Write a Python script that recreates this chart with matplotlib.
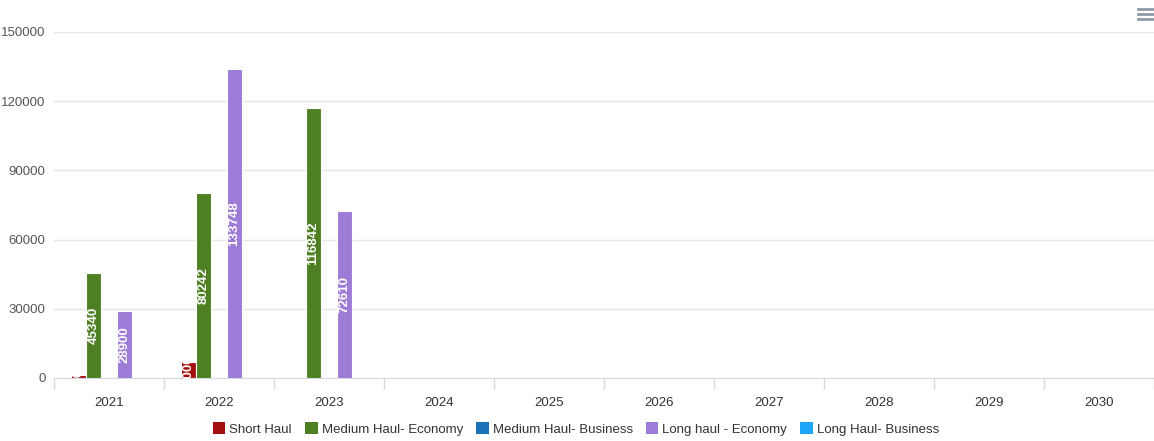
import numpy as np
import matplotlib
matplotlib.use('Agg')
import matplotlib.pyplot as plt
from matplotlib.patches import FancyBboxPatch
from matplotlib.lines import Line2D

plt.rcParams['font.family'] = ['Liberation Sans', 'DejaVu Sans']

# ---------------------------------------------------------
# Data
# ---------------------------------------------------------
years = ['2021', '2022', '2023', '2024', '2025', '2026', '2027', '2028', '2029', '2030']
short_haul = [1500, 7000, 0, 0, 0, 0, 0, 0, 0, 0]
medium_economy = [45340, 80242, 116842, 0, 0, 0, 0, 0, 0, 0]
medium_business = [0, 0, 0, 0, 0, 0, 0, 0, 0, 0]
long_economy = [28900, 133748, 72610, 0, 0, 0, 0, 0, 0, 0]
long_business = [0, 0, 0, 0, 0, 0, 0, 0, 0, 0]

series_names = ['Short Haul', 'Medium Haul- Economy', 'Medium Haul- Business',
                'Long haul - Economy', 'Long Haul- Business']
series_values = [short_haul, medium_economy, medium_business, long_economy, long_business]
colors = ['#a50f0f', '#4e7f22', '#1a72b8', '#9d7bd6', '#1ba6f7']

# ---------------------------------------------------------
# Figure
# ---------------------------------------------------------
W, H = 1154, 441
fig = plt.figure(figsize=(W / 100, H / 100), dpi=100)
ax = fig.add_axes([54 / W, 1 - 378 / H, 1 - 54 / W, (378 - 32) / H])

x = np.arange(len(years))
n = len(series_names)
bar_w = 0.135
step = 0.14

for i, (name, vals, col) in enumerate(zip(series_names, series_values, colors)):
    offs = (i - (n - 1) / 2) * step
    bars = ax.bar(x + offs, vals, width=bar_w, color=col, edgecolor='white',
                  linewidth=0.8, zorder=3)
    for b, v in zip(bars, vals):
        if v <= 0:
            continue
        t = ax.text(b.get_x() + b.get_width() / 2, v / 2, str(v), rotation=90,
                    ha='center', va='center', color='white', fontsize=9.5,
                    fontweight='bold', zorder=4)
        t.set_clip_path(b)

ax.set_xlim(-0.5, len(years) - 0.5)
ax.set_ylim(0, 150000)
ax.set_yticks(np.arange(0, 150001, 30000))
ax.set_yticklabels([str(v) for v in range(0, 150001, 30000)])
ax.yaxis.grid(True, color='#e6e6e6', linewidth=1, zorder=0)
ax.set_axisbelow(True)

# category labels centred, tick marks on the boundaries
ax.set_xticks(x)
ax.set_xticklabels(years)
ax.set_xticks(np.arange(-0.5, len(years) + 0.5, 1), minor=True)
ax.tick_params(axis='x', which='major', length=0, pad=14, labelsize=9.5, labelcolor='#333333')
ax.tick_params(axis='x', which='minor', length=8, color='#d4d9e2', width=1)
ax.tick_params(axis='y', length=0, pad=6, labelsize=9.5, labelcolor='#555555')

for s in ['top', 'right', 'left']:
    ax.spines[s].set_visible(False)
ax.spines['bottom'].set_color('#d4d9e2')
ax.spines['bottom'].set_zorder(2)

# legend along the bottom
handles = [FancyBboxPatch((0, 0), 1, 1, boxstyle='round,pad=0,rounding_size=0.2',
                          facecolor=c, edgecolor='none') for c in colors]
leg = fig.legend(handles, series_names, loc='center', bbox_to_anchor=(576 / W, 1 - 429 / H),
                 ncol=5, frameon=False, fontsize=9.5, handlelength=0.95, handleheight=0.95,
                 handletextpad=0.3, columnspacing=1.0, labelcolor='#333333')

# menu icon in the corner
for yy in [9, 14, 19]:
    fig.add_artist(Line2D([1138 / W, 1154 / W], [1 - yy / H, 1 - yy / H],
                          color='#8c99a8', linewidth=2, transform=fig.transFigure))

fig.savefig('out.png', dpi=100)
